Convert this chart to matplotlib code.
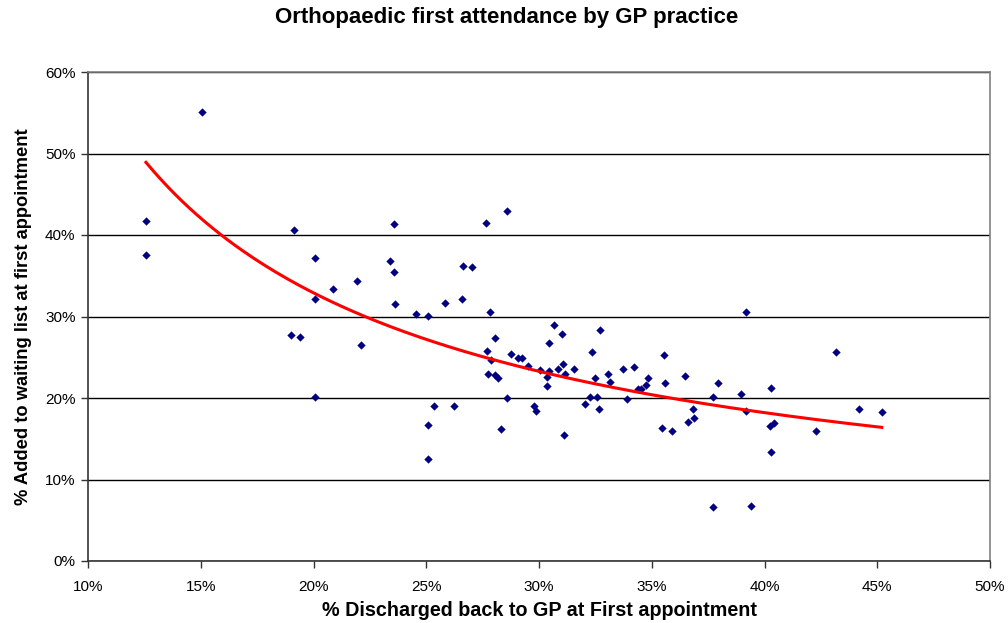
import numpy as np
import matplotlib
matplotlib.use("Agg")
import matplotlib.pyplot as plt
from matplotlib.ticker import FuncFormatter, MultipleLocator

plt.rcParams['font.family'] = ['Liberation Sans', 'DejaVu Sans']

# % discharged back to GP at first appointment
discharged = [12.57, 12.57, 15.06, 19.12, 20.05, 19.0, 19.4, 20.05, 20.07, 20.88,
              21.93, 22.1, 23.38, 23.57, 23.57, 23.63, 24.56, 25.06, 25.06, 25.06,
              25.36, 25.83, 26.23, 26.57, 26.64, 27.04, 27.63, 28.6, 27.81, 28.07,
              27.69, 27.85, 27.75, 28.05, 28.17, 28.6, 28.33, 28.78, 29.05, 29.26,
              29.53, 29.76, 29.87, 30.04, 30.34, 30.43, 30.34, 30.43, 30.68, 31.0,
              30.83, 31.08, 31.14, 31.11, 31.57, 32.04, 32.26, 32.37, 32.48, 32.56,
              32.68, 32.72, 33.04, 33.15, 33.74, 33.9, 34.2, 34.38, 34.54, 34.73,
              34.82, 35.44, 35.53, 35.59, 35.9, 36.47, 36.61, 36.87, 36.83, 37.7,
              37.73, 37.95, 38.94, 39.16, 39.2, 39.41, 40.3, 40.26, 40.42, 40.27,
              42.3, 43.15, 44.19, 45.2]
# % added to waiting list at first appointment
added = [41.76, 37.6, 55.1, 40.6, 37.2, 27.7, 27.5, 32.1, 20.1, 33.4,
         34.4, 26.5, 36.8, 41.3, 35.4, 31.5, 30.3, 30.06, 16.7, 12.5,
         19.06, 31.6, 19.06, 32.1, 36.2, 36.1, 41.5, 42.9, 30.6, 27.4,
         25.8, 24.7, 23.0, 22.8, 22.5, 20.0, 16.2, 25.4, 24.9, 24.9,
         23.9, 19.0, 18.4, 23.4, 22.6, 23.3, 21.5, 26.7, 29.0, 27.9,
         23.6, 24.2, 22.9, 15.5, 23.6, 19.3, 20.1, 25.6, 22.4, 20.1,
         18.6, 28.3, 22.9, 22.0, 23.6, 19.9, 23.8, 21.1, 21.1, 21.6,
         22.5, 16.3, 25.3, 21.9, 15.9, 22.7, 17.1, 17.6, 18.6, 20.1,
         6.6, 21.9, 20.5, 30.5, 18.4, 6.7, 21.2, 16.6, 16.9, 13.4,
         16.0, 25.6, 18.65, 18.3]

# power trend line y = a * x^b, coefficients
trend_a = 424.9
trend_b = -0.854

x = np.array(discharged)
y = np.array(added)

xt = np.linspace(x.min(), x.max(), 200)
yt = trend_a * xt ** trend_b

fig = plt.figure(figsize=(10.08, 6.23), dpi=100)
ax = fig.add_axes([88/1008, 1 - 561/623, (990-88)/1008, (561-72)/623])

ax.set_xlim(10, 50)
ax.set_ylim(0, 60)
ax.yaxis.set_major_locator(MultipleLocator(10))
ax.xaxis.set_major_locator(MultipleLocator(5))
fmt = FuncFormatter(lambda v, p: f"{v:.0f}%")
ax.xaxis.set_major_formatter(fmt)
ax.yaxis.set_major_formatter(fmt)

ax.grid(axis='y', color='black', linewidth=1.0, zorder=0)
ax.set_axisbelow(True)

ax.scatter(x, y, marker='D', s=18, color='#000080', linewidths=0, zorder=3)
ax.plot(xt, yt, color='#ff0000', linewidth=2.2, zorder=4)

for s in ['left', 'bottom']:
    ax.spines[s].set_color('#333333')
    ax.spines[s].set_linewidth(1.2)
for s in ['top', 'right']:
    ax.spines[s].set_color('#808080')
    ax.spines[s].set_linewidth(1.2)

ax.tick_params(axis='both', direction='out', length=5, width=1, color='#333333',
               labelsize=11, labelcolor='black')
ax.tick_params(axis='x', pad=9)
ax.tick_params(axis='y', pad=4)

ax.set_xlabel('% Discharged back to GP at First appointment', fontsize=14.2,
              fontweight='bold', labelpad=5)
ax.set_ylabel('% Added to waiting list at first appointment', fontsize=13.2,
              fontweight='bold', labelpad=9)
fig.text(507/1008, 1 - 18/623, 'Orthopaedic first attendance by GP practice',
         ha='center', va='center', fontsize=16, fontweight='bold')

fig.savefig('out.png', dpi=100)
